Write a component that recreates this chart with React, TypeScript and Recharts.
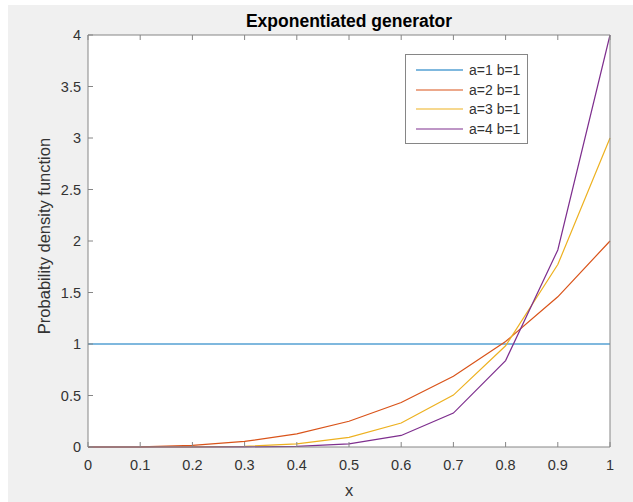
import React from "react";
import { LineChart, Line, XAxis, YAxis, Legend } from "recharts";

// x positions and pdf values
const xValues = [0, 0.1, 0.2, 0.3, 0.4, 0.5, 0.6, 0.7, 0.8, 0.9, 1];
const seriesA1 = [1, 1, 1, 1, 1, 1, 1, 1, 1, 1, 1];
const seriesA2 = [0, 0.002, 0.016, 0.054, 0.128, 0.25, 0.432, 0.686, 1.024, 1.458, 2];
const seriesA3 = [0, 0, 0.001, 0.007, 0.031, 0.094, 0.233, 0.504, 0.983, 1.771, 3];
const seriesA4 = [0, 0, 0, 0.001, 0.007, 0.031, 0.112, 0.329, 0.839, 1.913, 4];

const seriesKeys = ["s1", "s2", "s3", "s4"];
const seriesNames = ["a=1 b=1", "a=2 b=1", "a=3 b=1", "a=4 b=1"];
const seriesColors = ["#0072BD", "#D95319", "#EDB120", "#7E2F8E"];

const xTicks = [0, 0.1, 0.2, 0.3, 0.4, 0.5, 0.6, 0.7, 0.8, 0.9, 1];
const yTicks = [0, 0.5, 1, 1.5, 2, 2.5, 3, 3.5, 4];

const data = xValues.map((x, i) => ({
  x,
  s1: seriesA1[i],
  s2: seriesA2[i],
  s3: seriesA3[i],
  s4: seriesA4[i],
}));

const FONT = '"Liberation Sans", Arial, Helvetica, sans-serif';
const AXIS = "#868686";
const TEXT = "#333333";
const TICK_LEN = 5;

// plot box inside the 625x497 figure
const PLOT = { left: 80, top: 30, right: 602, bottom: 442 };

// inward tick marks, MATLAB style, drawn with the label
const BottomTick = (props: any) => {
  const { x, y, payload } = props;
  const axisY = y - 13;
  return (
    <g>
      <line x1={x} x2={x} y1={axisY - TICK_LEN} y2={axisY} stroke={AXIS} />
      <text
        x={x}
        y={y}
        dy="0.71em"
        textAnchor="middle"
        fill={TEXT}
        fontSize={14.5}
        fontFamily={FONT}
      >
        {String(payload.value)}
      </text>
    </g>
  );
};

const LeftTick = (props: any) => {
  const { x, y, payload } = props;
  const axisX = x + 7;
  return (
    <g>
      <line x1={axisX} x2={axisX + TICK_LEN} y1={y} y2={y} stroke={AXIS} />
      <text
        x={x}
        y={y}
        dy="0.355em"
        textAnchor="end"
        fill={TEXT}
        fontSize={14.5}
        fontFamily={FONT}
      >
        {String(payload.value)}
      </text>
    </g>
  );
};

const TopTick = (props: any) => {
  const { x, y } = props;
  return <line x1={x} x2={x} y1={y} y2={y + TICK_LEN} stroke={AXIS} />;
};

const RightTick = (props: any) => {
  const { x, y } = props;
  return <line x1={x - TICK_LEN} x2={x} y1={y} y2={y} stroke={AXIS} />;
};

const YTitle = (props: any) => {
  const { x, y, height } = props.viewBox;
  const cx = x + 22;
  const cy = y + height / 2 - 5;
  return (
    <text
      x={cx}
      y={cy}
      transform={`rotate(-90 ${cx} ${cy})`}
      textAnchor="middle"
      fontFamily={FONT}
      fontSize={16.5}
      fill={TEXT}
    >
      Probability density function
    </text>
  );
};

const LegendBox = () => (
  <div
    style={{
      background: "#fff",
      border: `1px solid ${AXIS}`,
      width: 121,
      padding: "5px 0 4px 0",
      fontFamily: FONT,
      fontSize: 14,
      color: TEXT,
    }}
  >
    {seriesNames.map((name, i) => (
      <div
        key={name}
        style={{ display: "flex", alignItems: "center", height: 19.8 }}
      >
        <svg width={57} height={4} style={{ display: "block" }}>
          <line
            x1={10}
            x2={57}
            y1={2}
            y2={2}
            stroke={seriesColors[i]}
            strokeWidth={1.2}
          />
        </svg>
        <span style={{ marginLeft: 6 }}>{name}</span>
      </div>
    ))}
  </div>
);

export default function App() {
  return (
    <div
      style={{
        position: "absolute",
        left: 8,
        top: 5,
        width: 625,
        height: 497,
        background: "#f0f0f0",
      }}
    >
      <div
        style={{
          position: "absolute",
          left: PLOT.left,
          top: PLOT.top,
          width: PLOT.right - PLOT.left,
          height: PLOT.bottom - PLOT.top,
          background: "#fff",
        }}
      />
      <LineChart
        width={625}
        height={497}
        data={data}
        margin={{ top: 29, right: 22, bottom: 25, left: 20 }}
      >
        <XAxis
          dataKey="x"
          type="number"
          domain={[0, 1]}
          ticks={xTicks}
          interval={0}
          height={30}
          tickSize={0}
          tickMargin={13}
          tickLine={false}
          stroke={AXIS}
          tick={<BottomTick />}
          label={{
            value: "x",
            position: "bottom",
            offset: 7,
            fill: TEXT,
            fontSize: 16.5,
            fontFamily: FONT,
          }}
        />
        <XAxis
          xAxisId="top"
          dataKey="x"
          type="number"
          orientation="top"
          domain={[0, 1]}
          ticks={xTicks}
          interval={0}
          height={1}
          tickSize={0}
          tickMargin={0}
          tickLine={false}
          tick={<TopTick />}
          stroke={AXIS}
          label={{
            value: "Exponentiated generator",
            position: "top",
            offset: 7,
            fill: "#000",
            fontSize: 17.5,
            fontWeight: "bold",
            fontFamily: FONT,
          }}
        />
        <YAxis
          type="number"
          domain={[0, 4]}
          ticks={yTicks}
          interval={0}
          width={60}
          tickSize={0}
          tickMargin={7}
          tickLine={false}
          stroke={AXIS}
          tick={<LeftTick />}
          label={<YTitle />}
        />
        <YAxis
          yAxisId="right"
          orientation="right"
          type="number"
          domain={[0, 4]}
          ticks={yTicks}
          interval={0}
          width={1}
          tickSize={0}
          tickMargin={0}
          tickLine={false}
          tick={<RightTick />}
          stroke={AXIS}
        />
        <Legend
          layout="vertical"
          align="center"
          verticalAlign="middle"
          wrapperStyle={{ left: 397, top: 49, width: 123, height: "auto" }}
          content={<LegendBox />}
        />
        {seriesKeys.map((k, i) => (
          <Line
            key={k}
            dataKey={k}
            name={seriesNames[i]}
            stroke={seriesColors[i]}
            strokeWidth={1.2}
            dot={false}
            activeDot={false}
            isAnimationActive={false}
          />
        ))}
      </LineChart>
    </div>
  );
}
